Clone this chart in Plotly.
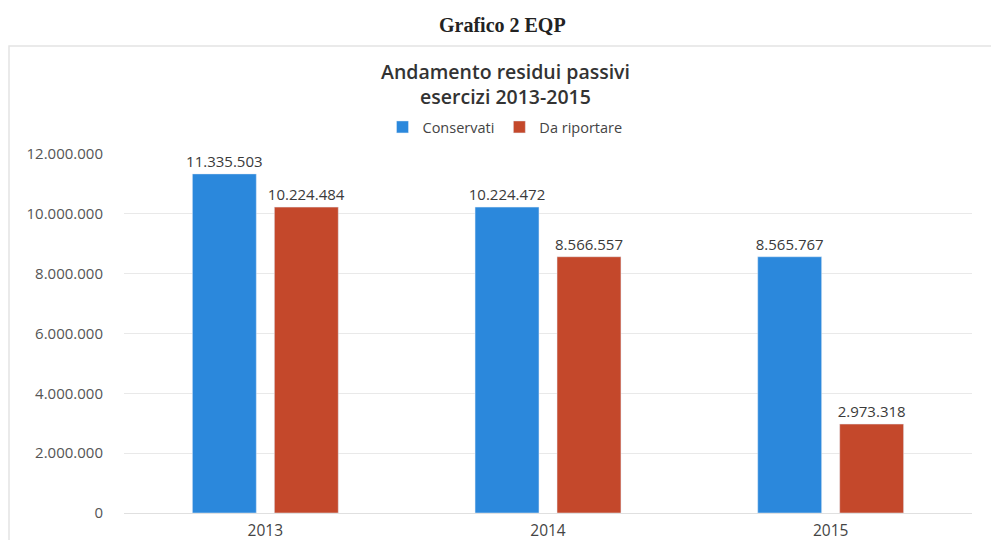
import plotly.graph_objects as go

years = ["2013", "2014", "2015"]
conservati = [11335503, 10224472, 8565767]
da_riportare = [10224484, 8566557, 2973318]
y_ticks = [0, 2000000, 4000000, 6000000, 8000000, 10000000, 12000000]
title_lines = ["Andamento residui passivi", "esercizi 2013-2015"]

W, H = 991, 540
L, R, T, B = 124, 19, 154, 27
pw, ph = W - L - R, H - T - B

def px(x):
    return (x - L) / pw

def py(y):
    return (H - B - y) / ph

blue = "#2b88dc"
red = "#c4482b"
font_family = "'Open Sans', sans-serif"

fig = go.Figure()
fig.add_trace(go.Bar(
    x=years, y=conservati, name="Conservati",
    marker=dict(color=blue),
    texttemplate="%{y:,}", textposition="outside", constraintext="none",
    textfont=dict(size=15, color="#3a3a3a", family=font_family),
    cliponaxis=False,
))
fig.add_trace(go.Bar(
    x=years, y=da_riportare, name="Da riportare",
    marker=dict(color=red),
    texttemplate="%{y:,}", textposition="outside", constraintext="none",
    textfont=dict(size=15, color="#3a3a3a", family=font_family),
    cliponaxis=False,
))

annotations = [
    dict(
        text="<b>Grafico 2 EQP</b>", xref="paper", yref="paper",
        x=px(502), y=py(25), xanchor="center", yanchor="middle",
        showarrow=False,
        font=dict(size=20, color="#222222", family="'Liberation Serif', serif"),
    ),
    dict(
        text="<br>".join(title_lines), xref="paper", yref="paper",
        x=px(505), y=py(84), xanchor="center", yanchor="middle",
        showarrow=False,
        font=dict(size=19.5, color="#333333", family=font_family, weight=600),
    ),
]

fig.update_layout(
    width=W, height=H,
    margin=dict(l=L, r=R, t=T, b=B, autoexpand=False),
    paper_bgcolor="white", plot_bgcolor="white",
    separators=",.",
    barmode="group", bargap=0.42, bargroupgap=0.22,
    font=dict(family=font_family, color="#555555"),
    legend=dict(
        orientation="h", x=px(505), xanchor="center", y=py(127), yanchor="middle",
        font=dict(size=14.5, color="#444444", family=font_family),
        itemwidth=30, traceorder="normal",
    ),
    xaxis=dict(
        showgrid=False, showline=False, ticks="", automargin=False,
        ticklabelstandoff=6,
        tickfont=dict(size=15.5, color="#444444", family=font_family),
    ),
    yaxis=dict(
        range=[0, 12000000], tickvals=y_ticks, tickformat=",", automargin=False,
        showgrid=True, gridcolor="#e9e9e9", gridwidth=1,
        zeroline=True, zerolinecolor="#e0e0e0", zerolinewidth=1,
        showline=False, ticks="", ticklabelstandoff=20,
        tickfont=dict(size=15, color="#555555", family=font_family),
    ),
    annotations=annotations,
    shapes=[
        dict(type="rect", xref="paper", yref="paper",
             x0=px(9), x1=px(992), y0=py(541), y1=py(46),
             line=dict(color="#e4e4e4", width=1.5), layer="below"),
    ],
)

fig.write_html(
    "out.html",
    config={"displayModeBar": False},
    post_script="document.body.style.margin='0px';",
)
